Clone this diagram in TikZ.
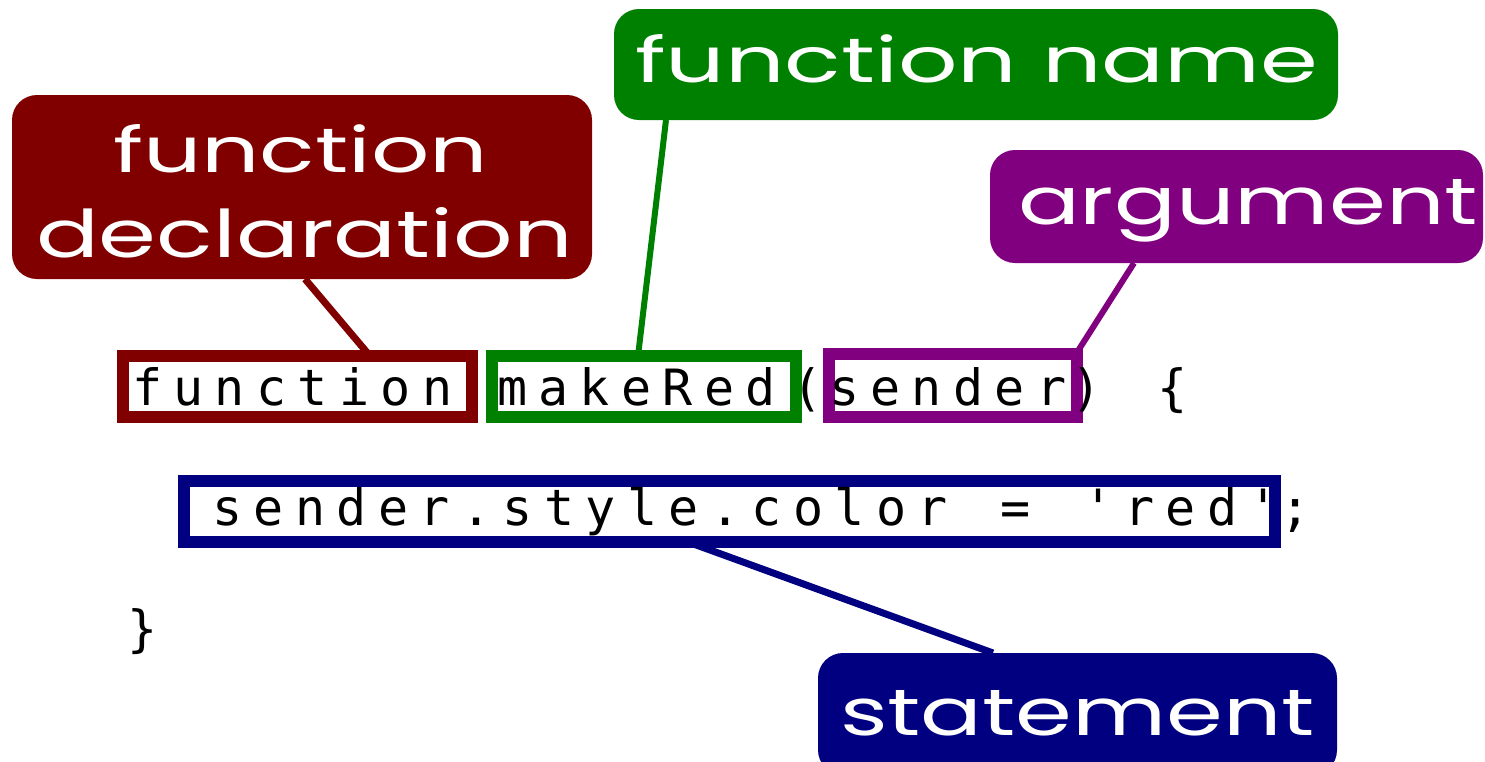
\documentclass[tikz,border=0pt]{standalone}
\usepackage{fontspec}
\usepackage{graphicx}
\newfontfamily\labelfont{Poppins}
\newfontfamily\codefont[LetterSpace=22.8]{DejaVu Sans Mono}
\definecolor{declc}{RGB}{128,0,0}
\definecolor{namec}{RGB}{0,128,0}
\definecolor{argc}{RGB}{128,0,128}
\definecolor{stmtc}{RGB}{0,0,128}
\tikzset{
  labelbox/.style={rectangle, rounded corners=25pt, inner sep=0pt, outer sep=0pt},
  codebox/.style={rectangle, draw, line width=12pt, inner sep=0pt, outer sep=0pt, fill=white},
  labeltext/.style={anchor=base west, inner sep=0pt, outer sep=0pt, text=white,
    font=\labelfont\fontsize{60pt}{60pt}\selectfont},
  codetext/.style={anchor=base west, inner sep=0pt, outer sep=0pt, text=black,
    font=\codefont\fontsize{50pt}{50pt}\selectfont},
  link/.style={line width=7pt}
}
\begin{document}
\begin{tikzpicture}[x=1pt,y=-1pt]
\useasboundingbox[fill=white] (0,0) rectangle (1485,761);
% label boxes
\node[labelbox, fill=declc, minimum width=580pt, minimum height=184pt] (decl) at (302,187) {};
\node[labelbox, fill=namec, minimum width=724pt, minimum height=111pt] (fname) at (976,64.5) {};
\node[labelbox, fill=argc, minimum width=493pt, minimum height=113pt] (arg) at (1236.5,206.5) {};
\node[labelbox, fill=stmtc, minimum width=519pt, minimum height=122pt] (stmt) at (1077.5,714) {};
% label texts
\node[labeltext] (tdecla) at (113,172) {\resizebox{375pt}{48pt}{function}};
\node[labeltext] (tdeclb) at (36,257) {\resizebox{537pt}{50pt}{declaration}};
\node[labeltext] (tname) at (635,82) {\resizebox{683pt}{48pt}{function name}};
\node[labeltext] (targ) at (1018,224) {\resizebox{460pt}{45pt}{argument}};
\node[labeltext] (tstmt) at (840,735) {\resizebox{475pt}{45pt}{statement}};
% code boxes
\node[codebox, draw=declc, minimum width=349pt, minimum height=61pt] (kw) at (297.5,386.5) {};
\node[codebox, draw=namec, minimum width=304pt, minimum height=61pt] (mk) at (644,386.5) {};
\node[codebox, draw=argc, minimum width=248pt, minimum height=63pt] (snd) at (953,385.5) {};
\node[codebox, draw=stmtc, minimum width=1091pt, minimum height=61pt] (st) at (729.5,511.5) {};
% connectors
\draw[link, declc] (decl.south -| 305,0) -- (kw.north -| 370,0);
\draw[link, namec, line width=6pt] (fname.south -| 666,0) -- (mk.north -| 638,0);
\draw[link, argc, line width=6pt] (arg.south -| 1134,0) -- (snd.north -| 1076,0);
\draw[link, stmtc] (st.south -| 688,0) -- (stmt.north -| 993,0);
% box strokes over connector ends
\draw[declc, line width=12pt] (kw.south west) rectangle (kw.north east);
\draw[namec, line width=12pt] (mk.south west) rectangle (mk.north east);
\draw[argc, line width=12pt] (snd.south west) rectangle (snd.north east);
\draw[stmtc, line width=12pt] (st.south west) rectangle (st.north east);
% code text
\node[codetext] (c1) at (132,405) {function};
\node[codetext] (c2) at (497,405) {makeRed};
\node[codetext] (c3) at (792,405) {(};
\node[codetext] (c4) at (829,405) {sender};
\node[codetext] (c5) at (1071,405) {)};
\node[codetext] (c6) at (1157,405) {\{};
\node[codetext] (d1) at (212.5,525) {sender.style.color};
\node[codetext] (d2) at (1000,525) {=};
\node[codetext] (d3) at (1083,525) {'red'};
\node[codetext] (d4) at (1280,525) {;};
\node[codetext] (e1) at (127,646) {\}};
\end{tikzpicture}
\end{document}
